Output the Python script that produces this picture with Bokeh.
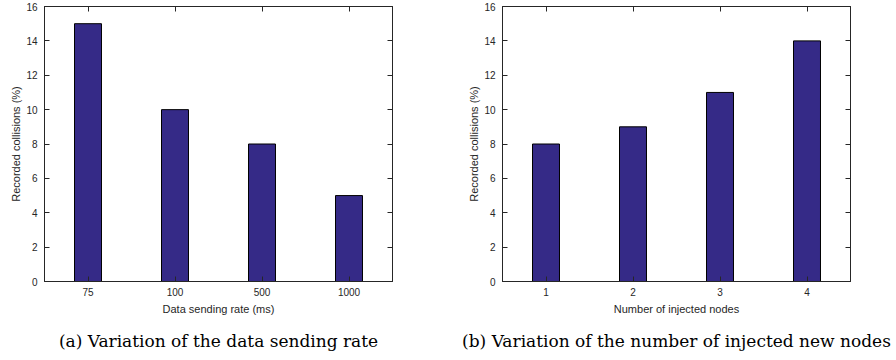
from bokeh.plotting import figure
from bokeh.models import (FactorRange, Range1d, CategoricalAxis, LinearAxis,
                          SingleIntervalTicker, Title)
from bokeh.layouts import row
from bokeh.embed import file_html
from bokeh.resources import INLINE

# Panel (a): collisions vs. data sending rate
rate_labels = ["75", "100", "500", "1000"]
rate_collisions = [15, 10, 8, 5]

# Panel (b): collisions vs. number of injected nodes
node_labels = ["1", "2", "3", "4"]
node_collisions = [8, 9, 11, 14]

y_label = "Recorded collisions (%)"
captions = ["(a) Variation of the data sending rate",
            "(b) Variation of the number of injected new nodes"]
x_titles = ["Data sending rate (ms)", "Number of injected nodes"]

BAR_COLOR = "#352a87"
AXIS_COLOR = "#262626"
SANS = "Liberation Sans"
SERIF = "DejaVu Serif"


def style_axis(ax, show_labels=True):
    ax.axis_line_color = AXIS_COLOR
    ax.axis_line_width = 1
    ax.major_tick_line_color = AXIS_COLOR
    ax.major_tick_in = 5
    ax.major_tick_out = 0
    ax.minor_tick_line_color = None
    ax.major_label_text_font = SANS
    ax.major_label_text_font_size = "10px"
    ax.major_label_text_color = AXIS_COLOR
    ax.axis_label_text_font = SANS
    ax.axis_label_text_font_size = "11px"
    ax.axis_label_text_font_style = "normal"
    ax.axis_label_text_color = AXIS_COLOR
    if not show_labels:
        # mirrored box ticks only, no labels
        ax.major_label_text_color = None
        ax.major_label_text_font_size = "1px"
        ax.major_label_standoff = 0


def panel(cats, vals, xtitle, caption, left, right):
    p = figure(x_range=FactorRange(*cats), y_range=Range1d(0, 16),
               frame_width=348, frame_height=275,
               min_border_left=left, min_border_right=right,
               min_border_top=6, min_border_bottom=0,
               output_backend="svg", toolbar_location=None,
               background_fill_color="white", border_fill_color="white")
    p.vbar(x=cats, top=vals, width=0.31, fill_color=BAR_COLOR,
           line_color="black", line_width=1)
    p.xgrid.visible = False
    p.ygrid.visible = False
    p.outline_line_color = AXIS_COLOR
    p.outline_line_alpha = 1

    p.yaxis.ticker = SingleIntervalTicker(interval=2)
    p.yaxis.axis_label = y_label
    p.yaxis.axis_label_standoff = 1
    p.yaxis.major_label_standoff = 3
    p.xaxis.axis_label = xtitle
    p.xaxis.axis_label_standoff = 4
    p.xaxis.major_label_standoff = 6
    style_axis(p.xaxis[0])
    style_axis(p.yaxis[0])

    top = CategoricalAxis()
    style_axis(top, show_labels=False)
    p.add_layout(top, "above")
    rgt = LinearAxis(ticker=SingleIntervalTicker(interval=2))
    style_axis(rgt, show_labels=False)
    p.add_layout(rgt, "right")

    cap = Title(text=caption, align="center", text_font=SERIF,
                text_font_size="17px", text_font_style="normal",
                text_color="black", standoff=23)
    p.add_layout(cap, "below")
    return p


p1 = panel(rate_labels, rate_collisions, x_titles[0], captions[0], 44, 56)
p2 = panel(node_labels, node_collisions, x_titles[1], captions[1], 54, 46)
p = row(p1, p2, spacing=0)

open("out.html", "w").write(file_html(p, INLINE))
